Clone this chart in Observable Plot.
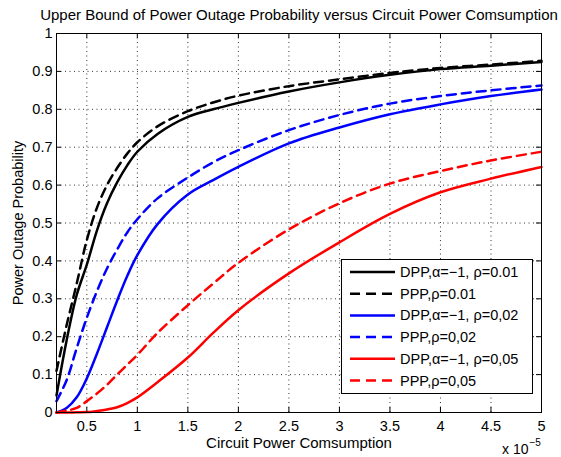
<!DOCTYPE html>
<html><head><meta charset="utf-8">
<script src="https://cdn.jsdelivr.net/npm/d3@7"></script>
<script src="https://cdn.jsdelivr.net/npm/@observablehq/plot@0.6"></script>
<style>body{margin:0;background:#fff}</style>
</head><body><div id="chart"></div>
<script>
const titleText = "Upper Bound of Power Outage Probability versus Circuit Power Comsumption";
const xLabel = "Circuit Power Comsumption";
const yLabel = "Power Outage Probability";
const xTicks = [0.5, 1, 1.5, 2, 2.5, 3, 3.5, 4, 4.5, 5];
const yTicks = [0, 0.1, 0.2, 0.3, 0.4, 0.5, 0.6, 0.7, 0.8, 0.9, 1];
const xs = [0.2, 0.3, 0.4, 0.5, 0.6, 0.7, 0.8, 0.9, 1.0, 1.2, 1.5, 1.75, 2, 2.5, 3, 3.5, 4, 4.5, 5];
const dpp001 = [0.045, 0.19, 0.31, 0.39, 0.48, 0.552, 0.607, 0.652, 0.688, 0.735, 0.78, 0.80, 0.817, 0.847, 0.871, 0.891, 0.906, 0.915, 0.925];
const ppp001 = [0.11, 0.23, 0.34, 0.455, 0.54, 0.6, 0.645, 0.683, 0.713, 0.755, 0.795, 0.818, 0.836, 0.861, 0.879, 0.896, 0.909, 0.918, 0.928];
const dpp002 = [0.0, 0.012, 0.04, 0.09, 0.155, 0.225, 0.295, 0.36, 0.415, 0.497, 0.575, 0.613, 0.648, 0.71, 0.752, 0.787, 0.813, 0.835, 0.852];
const ppp002 = [0.03, 0.085, 0.17, 0.25, 0.32, 0.38, 0.43, 0.475, 0.51, 0.565, 0.62, 0.66, 0.692, 0.745, 0.785, 0.815, 0.835, 0.85, 0.863];
const dpp005 = [0.0, 0.0, 0.0005, 0.001, 0.004, 0.008, 0.014, 0.025, 0.04, 0.08, 0.145, 0.21, 0.27, 0.367, 0.449, 0.524, 0.581, 0.617, 0.648];
const ppp005 = [0.0, 0.005, 0.012, 0.03, 0.05, 0.073, 0.1, 0.126, 0.152, 0.21, 0.283, 0.34, 0.395, 0.483, 0.552, 0.604, 0.637, 0.665, 0.688];
const seriesNames = ["DPP,α=−1, ρ=0.01", "PPP,ρ=0.01", "DPP,α=−1, ρ=0,02", "PPP,ρ=0,02", "DPP,α=−1, ρ=0,05", "PPP,ρ=0,05"];
const seriesValues = [dpp001, ppp001, dpp002, ppp002, dpp005, ppp005];
const seriesColors = ["#000000", "#000000", "#0000ff", "#0000ff", "#ff0000", "#ff0000"];
const seriesDashed = [false, true, false, true, false, true];

const FONT = "'Liberation Sans', Arial, Helvetica, sans-serif";
const FS = 14.5;
const DASH = "9,6";
const LW = 2.5;

const lineMarks = seriesValues.map((vals, i) =>
  Plot.line(xs.map((x, j) => ({x, y: vals[j]})), {
    x: "x", y: "y", stroke: seriesColors[i], strokeWidth: LW,
    strokeDasharray: seriesDashed[i] ? DASH : null, curve: "catmull-rom"
  })
);

const W = 561, H = 457;
const mL = 56, mR = 20, mT = 33, mB = 45;
const fw = W - mL - mR, fh = H - mT - mB;

const svg = Plot.plot({
  width: W, height: H,
  marginLeft: mL, marginRight: mR, marginTop: mT, marginBottom: mB,
  style: {fontFamily: FONT, fontSize: FS + "px", background: "#fff", color: "#000"},
  x: {domain: [0.2, 5], ticks: xTicks, tickFormat: d => String(d), tickSize: 0, tickPadding: 8, label: null},
  y: {domain: [0, 1], ticks: yTicks, tickFormat: d => String(d), tickSize: 0, tickPadding: 4, label: null},
  marks: [
    Plot.ruleX(xTicks, {x: d => d, stroke: "#333", strokeWidth: 1, strokeDasharray: "1,3.5"}),
    Plot.ruleY(yTicks, {y: d => d, stroke: "#333", strokeWidth: 1, strokeDasharray: "1,3.5"}),
    ...lineMarks,
    Plot.tickX(xTicks, {x: d => d, insetTop: fh - 5, stroke: "#000"}),
    Plot.tickX(xTicks, {x: d => d, insetBottom: fh - 5, stroke: "#000"}),
    Plot.tickY(yTicks, {y: d => d, insetRight: fw - 5, stroke: "#000"}),
    Plot.tickY(yTicks, {y: d => d, insetLeft: fw - 5, stroke: "#000"}),
    Plot.frame({stroke: "#000", strokeWidth: 1}),
    Plot.text([titleText], {frameAnchor: "top", textAnchor: "middle", lineAnchor: "middle", dy: -18, fontSize: 15, fill: "#000"}),
    Plot.text([xLabel], {frameAnchor: "bottom", textAnchor: "middle", lineAnchor: "middle", dy: 31, fontSize: 15, fill: "#000"}),
    Plot.text([yLabel], {frameAnchor: "left", textAnchor: "middle", lineAnchor: "middle", dx: -38, rotate: -90, fontSize: FS, fill: "#000"}),
    Plot.text(["x 10"], {frameAnchor: "bottom-right", textAnchor: "end", lineAnchor: "middle", dx: -13, dy: 37, fontSize: 14, fill: "#000"}),
    Plot.text(["−5"], {frameAnchor: "bottom-right", textAnchor: "start", lineAnchor: "middle", dx: -12, dy: 30, fontSize: 10, fill: "#000"})
  ]
});

// legend
const lg = d3.select(svg).append("g")
  .attr("font-family", FONT).attr("font-size", FS).attr("text-anchor", "start");
const lx = 341, ly = 259, lw = 191, lh = 134, rowH = 21.7;
lg.append("rect").attr("x", lx + 0.5).attr("y", ly + 0.5).attr("width", lw).attr("height", lh)
  .style("fill", "#ffffff").style("stroke", "#000000").style("stroke-width", "1px");
seriesNames.forEach((name, i) => {
  const cy = ly + 13 + i * rowH;
  lg.append("line").attr("x1", lx + 9).attr("x2", lx + 54).attr("y1", cy).attr("y2", cy)
    .style("stroke", seriesColors[i]).style("stroke-width", LW + "px")
    .style("stroke-dasharray", seriesDashed[i] ? "10,6" : "none");
  lg.append("text").attr("x", lx + 59).attr("y", cy).attr("dy", "0.35em")
    .attr("text-anchor", "start").style("fill", "#000").text(name);
});

document.getElementById("chart").appendChild(svg);
</script>
</body></html>
